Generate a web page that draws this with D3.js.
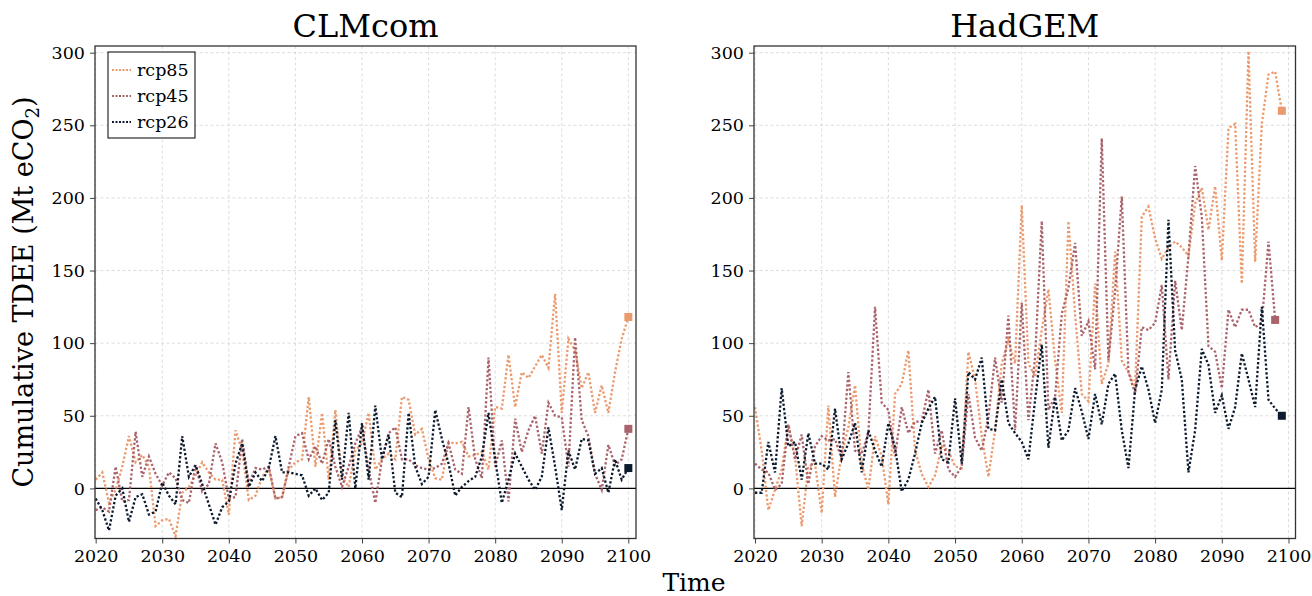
<!DOCTYPE html>
<html>
<head>
<meta charset="utf-8">
<script src="https://cdn.jsdelivr.net/npm/d3@7"></script>
<style>
  body { margin: 0; background: #fff; }
  text { font-family: "DejaVu Serif", serif; fill: #000; }
</style>
</head>
<body>
<div class="chart"></div>
<script>
// yearly values
var yearsL = d3.range(2020, 2101);   // CLMcom 2020-2100
var yearsR = d3.range(2020, 2100);   // HadGEM 2020-2099

var clm_rcp85 = [
  6, 11, -10, -1, 15, 36, 18, 23, 15, -26,
  -22, -21, -33, -3, 1, 9, 18, 11, 6, 6,
  -18, 40, 26, -8, -5, 8, 14, -7, -6, 13,
  18, 20, 63, 15, 52, 6, 54, 8, 1, 26,
  31, 52, 13, 20, 24, 20, 63, 61, 37, 41,
  20, 7, 6, 32, 31, 32, 22, 23, 25, 13,
  56, 55, 92, 56, 80, 76, 84, 92, 83, 134,
  52, 103, 95, 69, 80, 52, 71, 52, 80, 103,
  118];
var clm_rcp45 = [
  -15, -13, -16, 15, -9, -8, 39, 8, 22, 10,
  2, 11, 7, -8, -10, 16, -2, 3, 31, 18,
  -7, -6, 34, 3, 14, 13, 15, -7, -6, 15,
  36, 38, 20, 29, 17, 34, 15, 1, 15, 31,
  42, 13, -10, 20, 38, 42, 20, 20, 16, 14,
  13, 14, 17, 31, 13, 10, 56, 20, 7, 90,
  15, 33, -9, 48, 25, 40, 50, 24, 59, 50,
  49, 15, 104, 47, 36, 10, -1, 30, 16, 20,
  41];
var clm_rcp26 = [
  -7, -15, -29, -5, 0, -23, -6, -4, -18, -16,
  4, -5, -11, 36, 8, 16, 3, -11, -25, -13,
  -9, 17, 31, 1, 11, 5, 14, 36, 11, 11,
  10, 9, -5, 0, -8, -3, 47, 6, 52, 0,
  45, 6, 57, 20, 37, -3, -6, 52, 15, 3,
  8, 54, 34, 17, -5, 1, 5, 8, 22, 52,
  20, -10, 6, 24, 15, 6, -1, 8, 42, 15,
  -15, 26, 13, 34, 33, 10, 14, -3, 20, 6,
  14];

var had_rcp85 = [
  56, 26, -15, -1, 13, 44, 22, -26, 15, 17,
  -17, 57, -6, 24, 42, 71, 17, -1, 36, 22,
  -11, 65, 72, 95, 26, 10, 1, 9, 29, 26,
  15, 14, 94, 75, 36, 8, 40, 86, 102, 86,
  195, 86, 77, 109, 137, 88, 52, 184, 120, 65,
  60, 141, 72, 86, 163, 88, 80, 70, 187, 194,
  172, 158, 166, 170, 166, 160, 196, 207, 178, 208,
  157, 248, 251, 141, 301, 156, 251, 285, 287, 260];
var had_rcp45 = [
  17, 13, 11, -1, 3, 44, 20, 37, 3, 29,
  36, 33, 34, 20, 80, 26, 24, 38, 125, 59,
  54, 22, 56, 38, 46, 46, 68, 24, 40, 13,
  8, 15, 65, 35, 26, 49, 90, 59, 119, 40,
  128, 47, 90, 184, 54, 63, 120, 138, 169, 105,
  115, 82, 241, 88, 136, 201, 80, 65, 111, 109,
  114, 140, 75, 143, 109, 160, 222, 187, 98, 94,
  69, 123, 111, 123, 123, 111, 114, 170, 116];
var had_rcp26 = [
  -3, -3, 32, 11, 69, 29, 32, 6, 38, 17,
  17, 13, 55, 20, 31, 45, 11, 40, 26, 15,
  45, 28, -2, 6, 24, 45, 55, 63, 20, 18,
  62, 17, 80, 75, 90, 41, 40, 75, 45, 38,
  32, 20, 61, 99, 28, 63, 33, 40, 69, 53,
  34, 65, 44, 72, 79, 40, 14, 68, 84, 68,
  45, 68, 185, 95, 75, 11, 40, 96, 85, 52,
  64, 41, 56, 93, 75, 56, 125, 61, 55, 50];

var scenarios = ["rcp85", "rcp45", "rcp26"];
var colors = {rcp85: "#eb9a6e", rcp45: "#a9636b", rcp26: "#0c1a2e"};
var yTicks = [0, 50, 100, 150, 200, 250, 300];
var xTicks = [2020, 2030, 2040, 2050, 2060, 2070, 2080, 2090, 2100];

var panels = [
  {title: "CLMcom", left: 95, right: 636, xdom: [2019.9, 2101.15],
   series: {rcp85: [yearsL, clm_rcp85], rcp45: [yearsL, clm_rcp45], rcp26: [yearsL, clm_rcp26]}},
  {title: "HadGEM", left: 754, right: 1295.5, xdom: [2019.85, 2101.05],
   series: {rcp85: [yearsR, had_rcp85], rcp45: [yearsR.slice(0, had_rcp45.length), had_rcp45], rcp26: [yearsR, had_rcp26]}}
];

var W = 1312, H = 596, plotTop = 46, plotBottom = 538.5;

var svg = d3.select(".chart").append("svg")
    .attr("width", W)
    .attr("height", H);

var y = d3.scaleLinear().domain([-34.5, 304.6]).range([plotBottom, plotTop]);

panels.forEach(function(p) {
    var x = d3.scaleLinear().domain(p.xdom).range([p.left, p.right]);
    var g = svg.append("g");

    // grid
    g.selectAll(".vg").data(xTicks).enter().append("line")
        .attr("x1", function(d) { return x(d); })
        .attr("x2", function(d) { return x(d); })
        .attr("y1", plotTop).attr("y2", plotBottom)
        .attr("stroke", "#d4d4d4").attr("stroke-width", 0.8)
        .attr("stroke-dasharray", "3,2.5");
    g.selectAll(".hg").data(yTicks).enter().append("line")
        .attr("x1", p.left).attr("x2", p.right)
        .attr("y1", function(d) { return y(d); })
        .attr("y2", function(d) { return y(d); })
        .attr("stroke", "#d4d4d4").attr("stroke-width", 0.8)
        .attr("stroke-dasharray", "3,2.5");

    // zero line
    g.append("line")
        .attr("x1", p.left).attr("x2", p.right)
        .attr("y1", y(0)).attr("y2", y(0))
        .attr("stroke", "#000").attr("stroke-width", 1.2);

    var line = d3.line()
        .x(function(d) { return x(d[0]); })
        .y(function(d) { return y(d[1]); });

    scenarios.forEach(function(s) {
        var yrs = p.series[s][0], vals = p.series[s][1];
        var pts = vals.map(function(v, i) { return [yrs[i], v]; });
        g.append("path")
            .datum(pts)
            .attr("d", line)
            .attr("fill", "none")
            .attr("stroke", colors[s])
            .attr("stroke-width", 2.3)
            .attr("stroke-dasharray", "2.3,2.1");
        var last = pts[pts.length - 1];
        g.append("rect")
            .attr("x", x(last[0]) - 4).attr("y", y(last[1]) - 4)
            .attr("width", 8).attr("height", 8)
            .attr("fill", colors[s]);
    });

    // axes
    var xa = g.append("g")
        .attr("transform", "translate(0," + plotBottom + ")")
        .call(d3.axisBottom(x).tickValues(xTicks).tickSize(5).tickPadding(6).tickFormat(d3.format("d")));
    var ya = g.append("g")
        .attr("transform", "translate(" + p.left + ",0)")
        .call(d3.axisLeft(y).tickValues(yTicks).tickSize(5).tickPadding(5));
    [xa, ya].forEach(function(a) {
        a.select(".domain").remove();
        a.selectAll("line").attr("stroke", "#444");
        a.selectAll("text")
            .style("font-family", "DejaVu Serif, serif")
            .style("font-size", "17.5px")
            .attr("fill", "#000");
    });

    // frame
    g.append("rect")
        .attr("x", p.left).attr("y", plotTop)
        .attr("width", p.right - p.left).attr("height", plotBottom - plotTop)
        .attr("fill", "none").attr("stroke", "#333").attr("stroke-width", 1.3);

    svg.append("text")
        .attr("x", (p.left + p.right) / 2).attr("y", 37)
        .attr("text-anchor", "middle")
        .style("font-size", "32px")
        .text(p.title);
});

// legend, left panel only
var leg = svg.append("g");
leg.append("rect")
    .attr("x", 108).attr("y", 52)
    .attr("width", 87).attr("height", 86)
    .attr("fill", "#fff").attr("stroke", "#000").attr("stroke-width", 1);
scenarios.forEach(function(s, i) {
    var ly = 70 + i * 26;
    leg.append("line")
        .attr("x1", 112).attr("x2", 131)
        .attr("y1", ly).attr("y2", ly)
        .attr("stroke", colors[s]).attr("stroke-width", 2)
        .attr("stroke-dasharray", "2,1.5");
    leg.append("text")
        .attr("x", 137).attr("y", ly + 6)
        .style("font-size", "17.5px")
        .text(s);
});

// axis titles
svg.append("text")
    .attr("x", 694).attr("y", 591)
    .attr("text-anchor", "middle")
    .style("font-size", "25px")
    .text("Time");

var yl = svg.append("text")
    .attr("transform", "translate(33,292) rotate(-90)")
    .attr("text-anchor", "middle")
    .style("font-size", "27px");
yl.append("tspan").text("Cumulative TDEE (Mt eCO");
yl.append("tspan").attr("dy", 6).style("font-size", "18px").text("2");
yl.append("tspan").attr("dy", -6).text(")");
</script>
</body>
</html>
